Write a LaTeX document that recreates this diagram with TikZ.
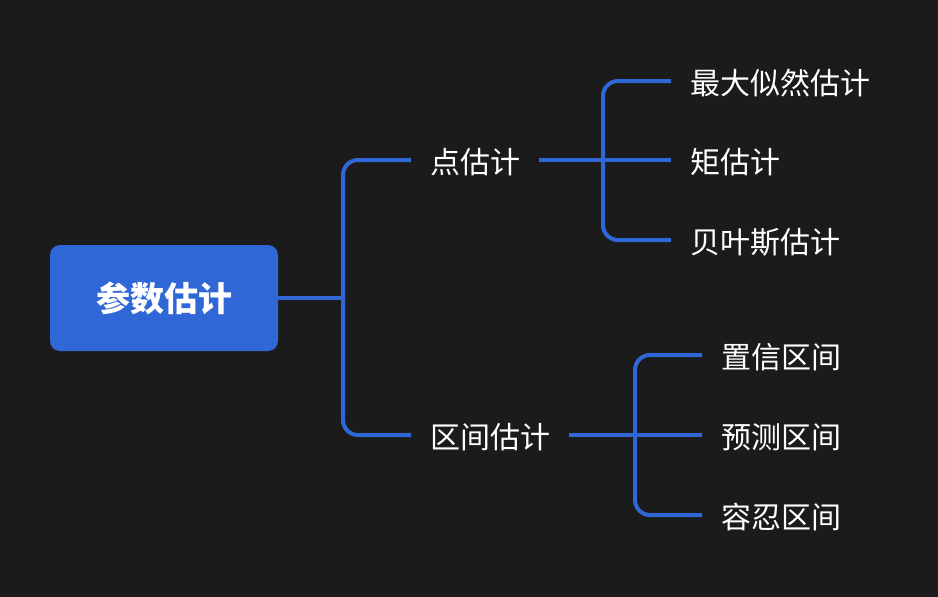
\documentclass[tikz,border=0pt]{standalone}
\usepackage{fontspec}
\setmainfont{Noto Sans CJK SC}
\definecolor{bgdark}{HTML}{1B1B1B}
\definecolor{mapblue}{HTML}{3067D6}

\begin{document}
\begin{tikzpicture}[
        x=1pt, y=-1pt,
        root/.style={rectangle, rounded corners=10pt, fill=mapblue, text=white,
            font=\fontsize{34}{40}\selectfont\bfseries,
            minimum width=228pt, minimum height=106pt, inner sep=0pt},
        topic/.style={anchor=west, text=white, font=\fontsize{30}{36}\selectfont,
            inner xsep=19pt, inner ysep=0pt, text height=27pt, text depth=0pt},
        branch/.style={draw=mapblue, line width=4pt, rounded corners=15pt}
    ]

    % --- Background ---
    \fill[bgdark] (0,0) rectangle (938,597);
    \useasboundingbox (0,0) rectangle (938,597);

    % --- Root ---
    \node[root] (param) at (164,298) {参数估计};

    % --- First level ---
    \node[topic] (point) at (411,160) {点估计};
    \node[topic] (interval) at (411,435) {区间估计};

    % --- Point estimation ---
    \node[topic] (mle) at (671,81) {最大似然估计};
    \node[topic] (moment) at (671,160) {矩估计};
    \node[topic] (bayes) at (671,240) {贝叶斯估计};

    % --- Interval estimation ---
    \node[topic] (confid) at (702,355) {置信区间};
    \node[topic] (predict) at (702,435) {预测区间};
    \node[topic] (toler) at (702,515) {容忍区间};

    % Junctions
    \coordinate (j1) at (343,298);
    \coordinate (j2) at (603,160);
    \coordinate (j3) at (635,435);

    % Edges
    \draw[branch] (param.east) -- (j1);
    \draw[branch] (j1) |- (point.west);
    \draw[branch] (j1) |- (interval.west);

    \draw[branch] (point.east) -- (moment.west);
    \draw[branch] (j2) |- (mle.west);
    \draw[branch] (j2) |- (bayes.west);

    \draw[branch] (interval.east) -- (predict.west);
    \draw[branch] (j3) |- (confid.west);
    \draw[branch] (j3) |- (toler.west);

\end{tikzpicture}
\end{document}
